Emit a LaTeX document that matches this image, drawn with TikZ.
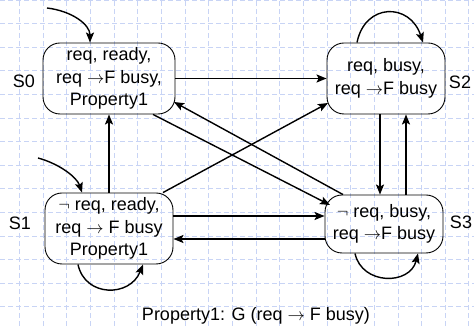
\documentclass[tikz,border=0pt]{standalone}
\usepackage{fontspec}
\setmainfont{Liberation Sans}
\usetikzlibrary{arrows.meta,calc}
\definecolor{gridblue}{RGB}{200,212,245}
\begin{document}
\begin{tikzpicture}[x=1pt,y=1pt,
  state/.style={draw, line width=0.9pt, rounded corners=17pt, align=center, inner sep=0pt, font=\fontsize{18}{22.5}\selectfont},
  lbl/.style={font=\fontsize{18}{22.5}\selectfont, inner sep=0pt},
  edge/.style={line width=1.4pt, -{Stealth[length=10pt,width=8pt,inset=2pt]}},
  gridline/.style={gridblue, line width=0.8pt, dash pattern=on 5pt off 3pt}]
\useasboundingbox (0,0) rectangle (474,326);
\foreach \k in {0,...,19} \draw[gridline] ({19.5+23.65*\k},0) -- ({19.5+23.65*\k},326);
\foreach \k in {0,...,13} \draw[gridline] (0,{326-23.6*\k}) -- (474,{326-23.6*\k});

\node[state, minimum width=132pt, minimum height=71pt] (S0) at (109,247.5) {req, ready,\\req $\rightarrow$F busy,\\Property1};
\node[state, minimum width=118pt, minimum height=71pt] (S2) at (386,247.5) {req, busy,\\req $\rightarrow$F busy};
\node[state, minimum width=128pt, minimum height=71pt] (S1) at (109,97.5) {$\neg$ req, ready,\\req $\rightarrow$ F busy\\Property1};
\node[state, minimum width=118pt, minimum height=58pt] (S3) at (384,102) {$\neg$ req, busy,\\req $\rightarrow$F busy};

\node[lbl] (L0) at (24,245) {S0};
\node[lbl] (L2) at (460,244) {S2};
\node[lbl] (L1) at (20,103) {S1};
\node[lbl] (L3) at (461,104) {S3};
\node[lbl, anchor=base] (T) at (256,5) {Property1: G (req $\rightarrow$ F busy)};

\draw[edge] (S0.east) -- (S2.west);
\draw[edge] (S1.north) -- (S0.south);
\draw[edge] ([xshift=-6pt]S2.south) -- ([xshift=-4pt]S3.north);
\draw[edge] ([xshift=22pt]S3.north) -- ([xshift=20pt]S2.south);
\draw[edge] ([yshift=12.5pt]S1.east) -- ([yshift=8pt]S3.west);
\draw[edge] ([yshift=-15pt]S3.west) -- ([yshift=-10.5pt]S1.east);
\draw[edge] ([xshift=44pt]S0.south) -- ($(S3.center)+(-54,19)$);
\draw[edge] ([xshift=-41pt]S3.north) -- ($(S0.center)+(65,-23.5)$);
\draw[edge] ([xshift=54pt]S1.north) -- ($(S2.center)+(-58,-24.5)$);

\draw[edge] ([xshift=-29pt]S2.north) .. controls +(8,40) and +(-13,40) .. ([xshift=37pt]S2.north);
\draw[edge] ([xshift=-31pt]S1.south) .. controls +(7,-33) and +(-13,-33) .. ([xshift=34pt]S1.south);
\draw[edge] ([xshift=-29pt]S3.south) .. controls +(7,-32) and +(-8,-32) .. ([xshift=34pt]S3.south);

\coordinate (i0) at (47,318);
\coordinate (i1) at (38,168);
\draw[edge] (i0) .. controls +(25,-3) and +(0,18) .. ([xshift=-19pt]S0.north);
\draw[edge] (i1) .. controls +(22,-6) and +(-5,15) .. ([xshift=-27pt]S1.north);
\end{tikzpicture}
\end{document}
